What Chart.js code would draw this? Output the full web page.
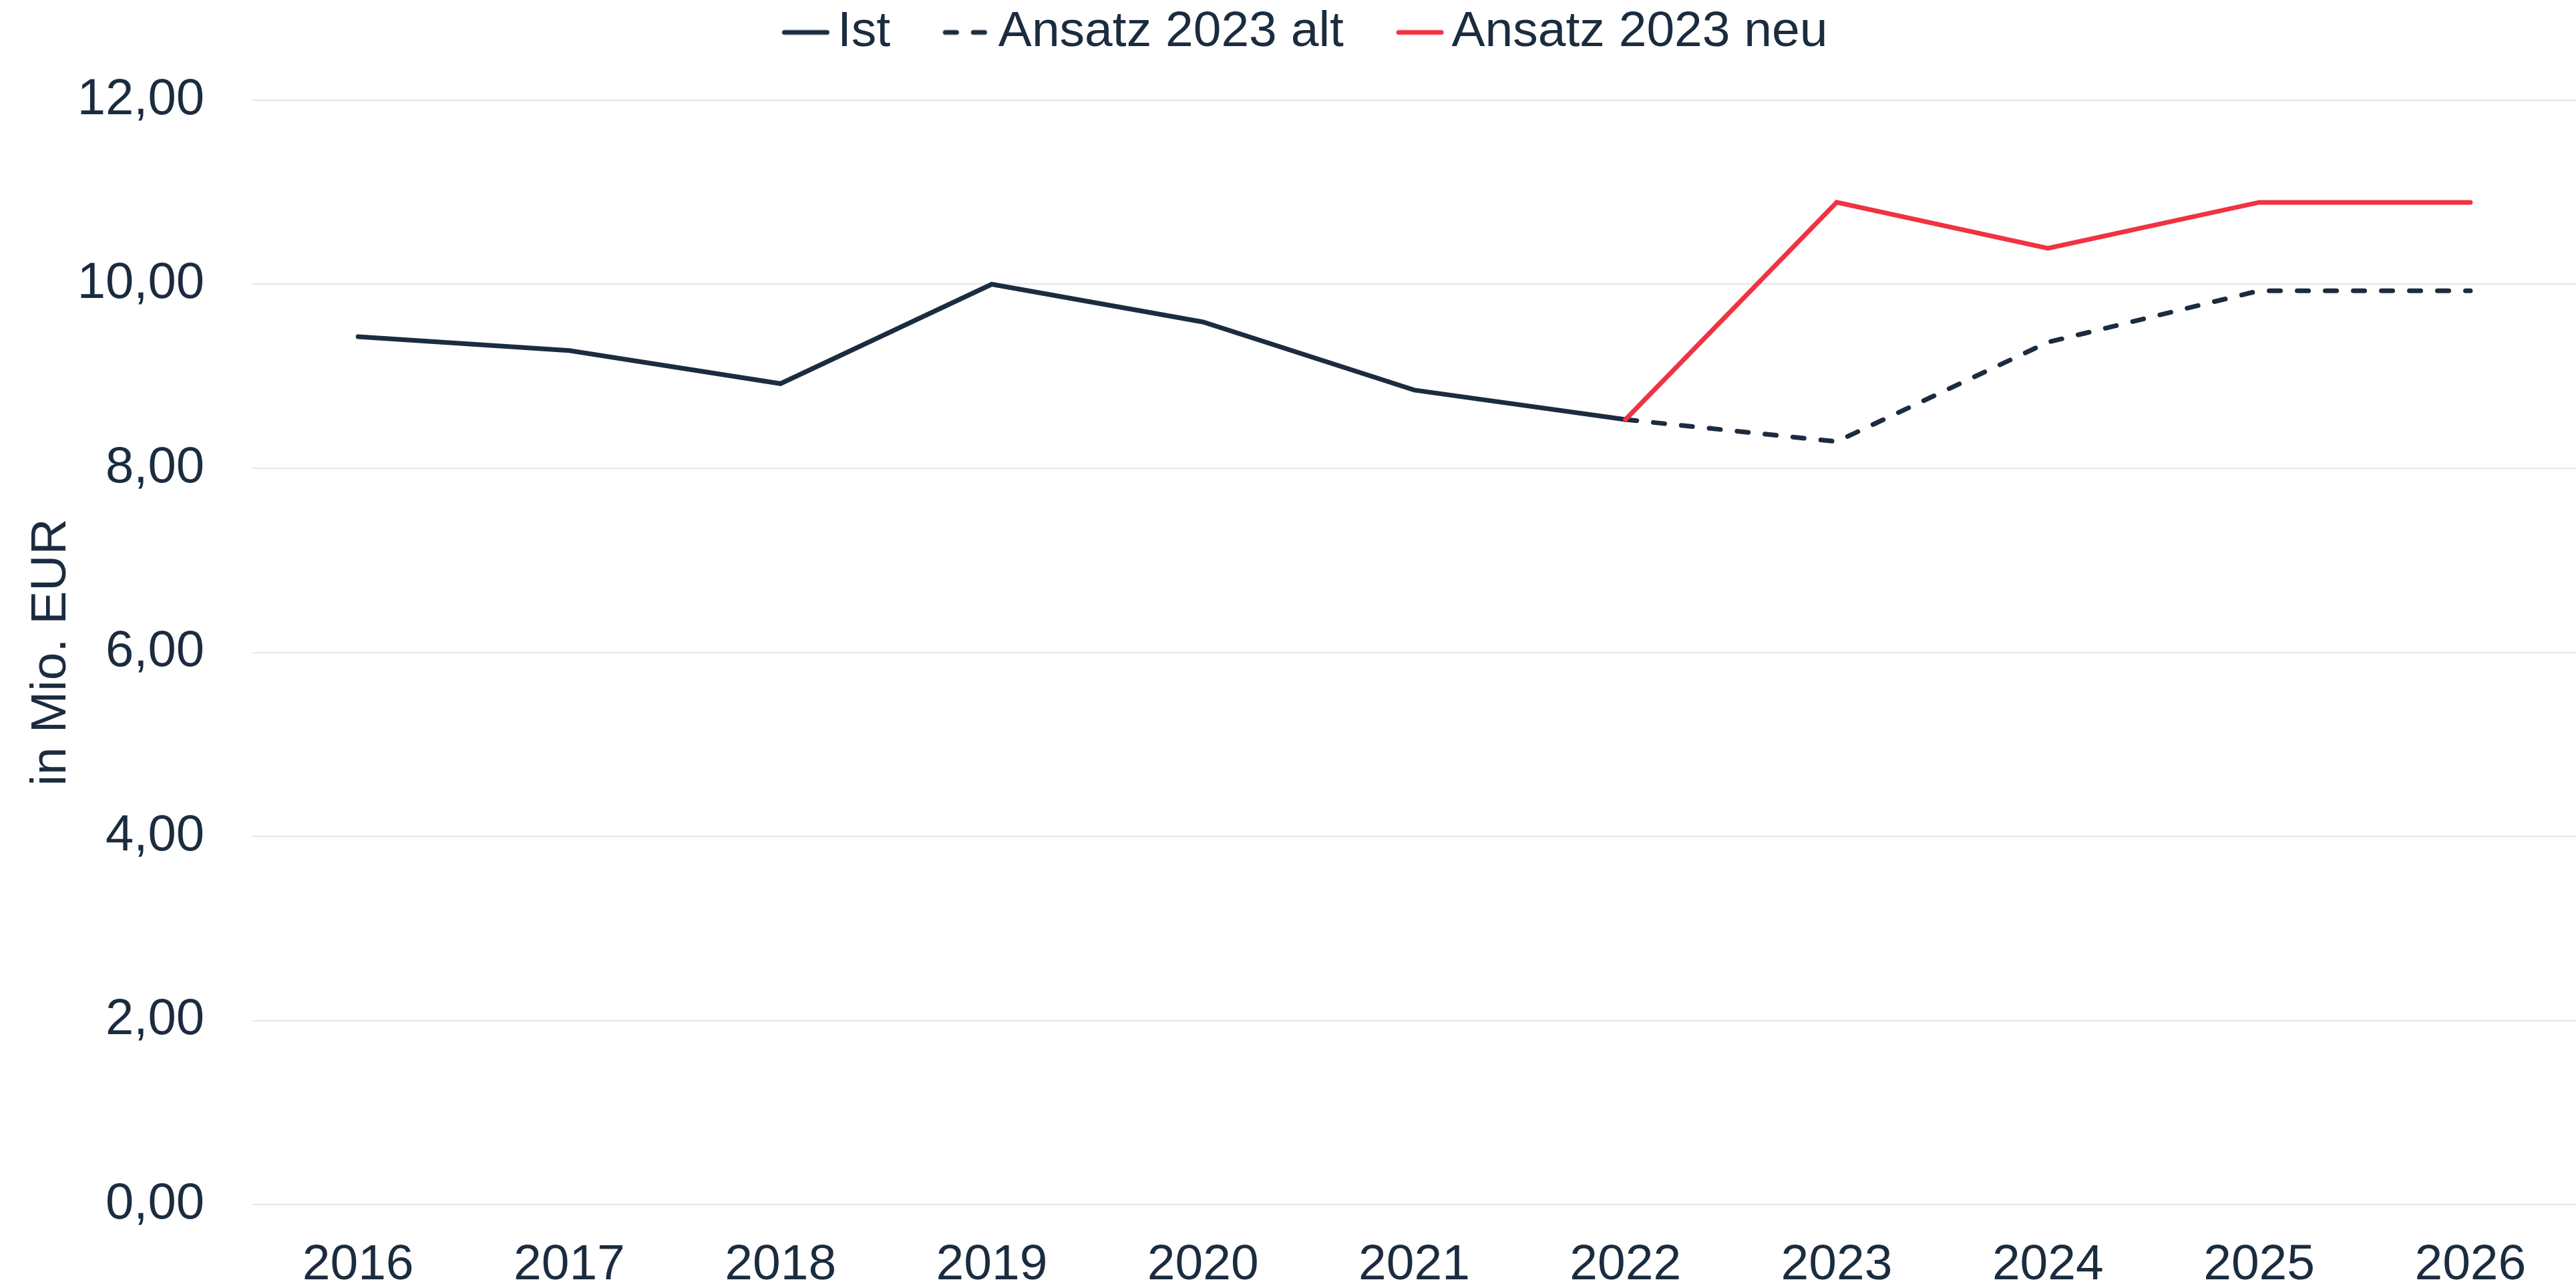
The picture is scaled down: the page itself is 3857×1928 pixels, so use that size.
<!DOCTYPE html>
<html>
<head>
<meta charset="utf-8">
<script src="https://cdn.jsdelivr.net/npm/chart.js@4.4.1/dist/chart.umd.min.js"></script>
<style>
  html, body { margin: 0; padding: 0; background: #fff; }
  #wrap { width: 3857px; height: 1928px; }
</style>
</head>
<body>
<div id="wrap"><canvas id="kostenChart" width="3857" height="1928"></canvas></div>
<script>
  const years = ['2016', '2017', '2018', '2019', '2020', '2021', '2022', '2023', '2024', '2025', '2026'];
  const istValues = [9.43, 9.28, 8.92, 10.0, 9.59, 8.85, 8.53, null, null, null, null];
  const altValues = [null, null, null, null, null, null, 8.53, 8.29, 9.37, 9.93, 9.93];
  const neuValues = [null, null, null, null, null, null, 8.53, 10.89, 10.39, 10.89, 10.89];
  const yTicks = [0, 2, 4, 6, 8, 10, 12];

  const navy = '#1b2c3f';
  const red = '#ef3343';
  const fontFamily = '"Liberation Sans", Arial, sans-serif';
  const lineW = 7;
  const dash = [17, 25];

  // small canvas used as legend marker (line drawn a bit off to the left of the box)
  function legendLine(color, lineDash) {
    const c = document.createElement('canvas');
    c.width = 72;
    c.height = 12;
    const g = c.getContext('2d');
    g.strokeStyle = color;
    g.lineWidth = lineW;
    g.lineCap = 'round';
    g.setLineDash(lineDash);
    g.beginPath();
    g.moveTo(4, 6);
    g.lineTo(68, 6);
    g.stroke();
    return c;
  }

  // legend: fixed height + small shift, the default box spacing is too wide here
  const legendTweak = {
    id: 'legendTweak',
    beforeLayout(chart) {
      const lg = chart.legend;
      if (lg && !lg._patched) {
        const fit = lg.fit;
        lg.fit = function () {
          fit.call(this);
          this.height = 150;
        };
        lg._patched = true;
      }
    },
    afterLayout(chart) {
      const lg = chart.legend;
      lg.top = 11;
      lg.left += 38;
      lg.right += 38;
    }
  };

  const ctx = document.getElementById('kostenChart').getContext('2d');
  const kostenChart = new Chart(ctx, {
    type: 'line',
    data: {
      labels: years,
      datasets: [
        {
          label: 'Ist',
          data: istValues,
          borderColor: navy,
          backgroundColor: navy,
          borderWidth: lineW,
          borderCapStyle: 'round',
          pointRadius: 0,
          tension: 0,
          order: 1
        },
        {
          label: 'Ansatz 2023 alt',
          data: altValues,
          borderColor: navy,
          backgroundColor: navy,
          borderWidth: lineW,
          borderDash: dash,
          borderCapStyle: 'round',
          pointRadius: 0,
          tension: 0,
          order: 2
        },
        {
          label: 'Ansatz 2023 neu',
          data: neuValues,
          borderColor: red,
          backgroundColor: red,
          borderWidth: lineW,
          borderCapStyle: 'round',
          pointRadius: 0,
          tension: 0,
          order: 0
        }
      ]
    },
    plugins: [legendTweak],
    options: {
      responsive: false,
      animation: false,
      plugins: {
        legend: {
          position: 'top',
          labels: {
            usePointStyle: true,
            pointStyleWidth: 20,
            color: navy,
            padding: 0,
            font: { family: fontFamily, size: 75 },
            sort: function (a, b) { return a.datasetIndex - b.datasetIndex; },
            generateLabels: function (chart) {
              const items = Chart.defaults.plugins.legend.labels.generateLabels(chart);
              items.forEach(function (item) {
                const ds = chart.data.datasets[item.datasetIndex];
                item.pointStyle = legendLine(ds.borderColor, ds.borderDash || []);
                if (item.datasetIndex < 2) item.text = item.text + '     ';
              });
              return items;
            }
          }
        },
        tooltip: { enabled: false }
      },
      scales: {
        x: {
          offset: true,
          afterFit: function (scale) { scale.height = 125; },
          grid: { display: false },
          border: { display: false },
          ticks: {
            color: navy,
            padding: 38,
            maxRotation: 0,
            font: { family: fontFamily, size: 75 }
          }
        },
        y: {
          min: 0,
          max: 12,
          afterFit: function (scale) { scale.width = 378; },
          afterBuildTicks: function (scale) {
            scale.ticks = yTicks.map(function (v) { return { value: v }; });
          },
          grid: {
            color: '#e6e6e6',
            lineWidth: 2,
            drawTicks: false
          },
          border: { display: false },
          ticks: {
            color: navy,
            padding: 72,
            font: { family: fontFamily, size: 76 },
            callback: function (value) {
              return value.toFixed(2).replace('.', ',');
            }
          },
          title: {
            display: true,
            text: 'in Mio. EUR',
            color: navy,
            padding: { top: 32, bottom: 0 },
            font: { family: fontFamily, size: 75 }
          }
        }
      }
    }
  });
</script>
</body>
</html>
